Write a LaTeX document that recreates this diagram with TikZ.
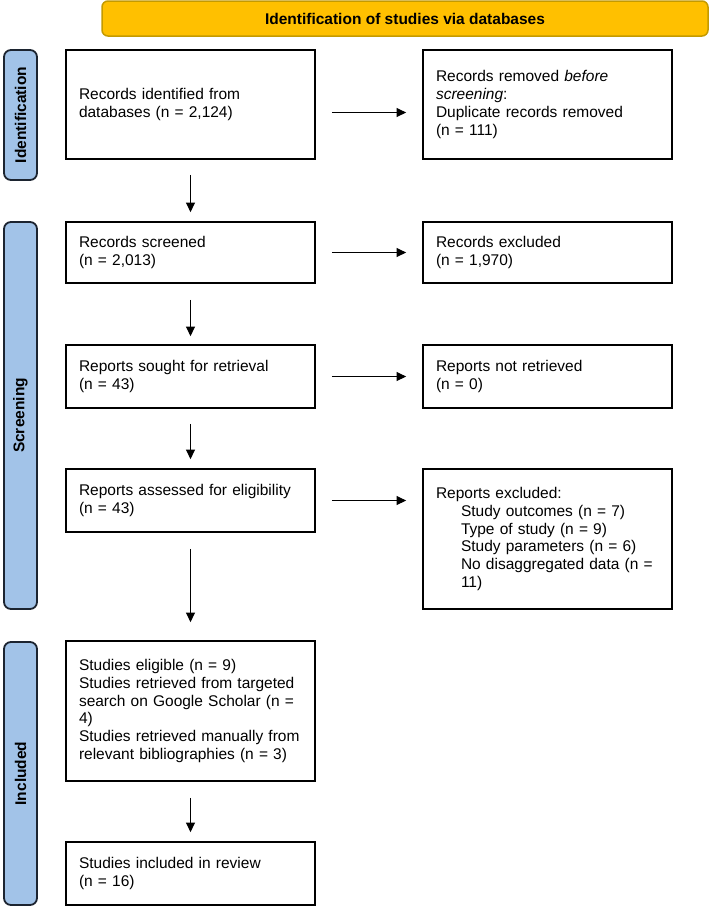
\documentclass[tikz,border=0pt]{standalone}
\usepackage{fontspec}
\setmainfont{Liberation Sans}
\usetikzlibrary{arrows.meta}
\definecolor{bannerfill}{HTML}{FFC000}
\definecolor{bannerdraw}{HTML}{C49A00}
\definecolor{sidefill}{HTML}{A2C3E8}
\definecolor{sidedraw}{HTML}{1C2430}
\tikzset{
  box/.style={draw=black, line width=1.8pt, text width=223pt, inner xsep=13pt, inner ysep=0pt,
    align=left, font=\fontsize{15.5}{17.7}\selectfont, anchor=center},
  side/.style={draw=sidedraw, fill=sidefill, line width=1.8pt, rounded corners=7pt, rotate=90,
    minimum height=33pt, inner sep=0pt, font=\bfseries\fontsize{15.5}{17}\selectfont},
  flow/.style={line width=1.1pt, -{Triangle[length=9.5pt,width=9pt]}},
}
\begin{document}
\begin{tikzpicture}[x=1pt,y=-1pt]
\useasboundingbox (0,0) rectangle (710,906);
% banner
\node[draw=bannerdraw, fill=bannerfill, line width=1.5pt, rounded corners=6pt,
  minimum width=606pt, minimum height=35pt, inner sep=0pt,
  font=\bfseries\fontsize{15.5}{17}\selectfont] (banner) at (405,18.5) {Identification of studies via databases};
% side bars
\node[side, minimum width=130pt] (sideI) at (20.5,115) {Identification};
\node[side, minimum width=387pt] (sideS) at (20.5,415.5) {Screening};
\node[side, minimum width=263pt] (sideN) at (20.5,773.5) {Included};
% left column
\node[box, minimum height=109pt] (b1) at (190.5,104.5) {Records identified from\\databases (n = 2,124)};
\node[box, minimum height=61pt] (b2) at (190.5,252.5) {Records screened\\(n = 2,013)};
\node[box, minimum height=63pt] (b3) at (190.5,376.5) {Reports sought for retrieval\\(n = 43)};
\node[box, minimum height=63pt] (b4) at (190.5,500.5) {Reports assessed for eligibility\\(n = 43)};
\node[box, minimum height=140pt] (b5) at (190.5,711) {Studies eligible (n = 9)\\Studies retrieved from targeted\\search on Google Scholar (n =\\4)\\Studies retrieved manually from\\relevant bibliographies (n = 3)};
\node[box, minimum height=63pt] (b6) at (190.5,873.5) {Studies included in review\\(n = 16)};
% right column
\node[box, minimum height=109pt] (r1) at (547.5,104.5) {Records removed \textit{before}\\\textit{screening}:\\Duplicate records removed\\(n = 111)};
\node[box, minimum height=61pt] (r2) at (547.5,252.5) {Records excluded\\(n = 1,970)};
\node[box, minimum height=63pt] (r3) at (547.5,376.5) {Reports not retrieved\\(n = 0)};
\node[box, minimum height=140pt] (r4) at (547.5,539) {Reports excluded:\\\hspace*{25pt}Study outcomes (n = 7)\\\hspace*{25pt}Type of study (n = 9)\\\hspace*{25pt}Study parameters (n = 6)\\\hspace*{25pt}No disaggregated data (n =\\\hspace*{25pt}11)};
% horizontal arrows
\draw[flow, shorten <=16pt, shorten >=16pt] ([yshift=-8pt]b1.east) -- ([yshift=-8pt]r1.west);
\draw[flow, shorten <=16pt, shorten >=16pt] (b2.east) -- (r2.west);
\draw[flow, shorten <=16pt, shorten >=16pt] (b3.east) -- (r3.west);
\draw[flow, shorten <=16pt, shorten >=16pt] (b4.east) -- (r4.west |- b4.east);
% vertical arrows
\draw[flow, shorten <=15pt, shorten >=9pt] (b1.south) -- (b2.north);
\draw[flow, shorten <=16pt, shorten >=8pt] (b2.south) -- (b3.north);
\draw[flow, shorten <=15pt, shorten >=9pt] (b3.south) -- (b4.north);
\draw[flow, shorten <=16pt, shorten >=18pt] (b4.south) -- (b5.north);
\draw[flow, shorten <=16pt, shorten >=9pt] (b5.south) -- (b6.north);
\end{tikzpicture}
\end{document}
